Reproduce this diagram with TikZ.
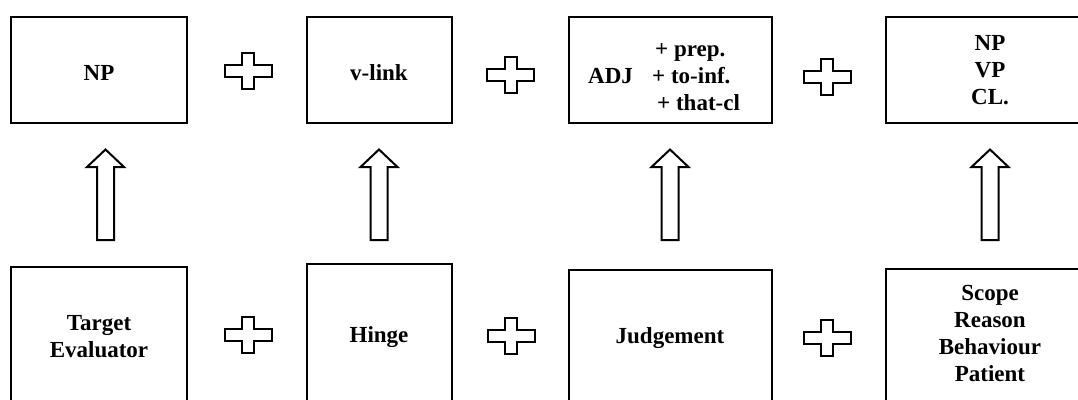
\documentclass[tikz,border=0pt]{standalone}
\usepackage{fontspec}
\setmainfont{Liberation Serif}
\begin{document}
\begin{tikzpicture}[x=1pt,y=-1pt,
  box/.style={draw,line width=2pt,inner sep=0pt,outer sep=0pt},
  lbl/.style={font=\fontsize{23}{27}\selectfont\bfseries,align=center,inner sep=0pt},
  shapeline/.style={draw,line width=2pt,line join=miter,fill=white},
  plussign/.pic={\path[shapeline] (-6,-18) -- (6,-18) -- (6,-6) -- (23.5,-6) -- (23.5,6) -- (6,6) -- (6,18) -- (-6,18) -- (-6,6) -- (-23.5,6) -- (-23.5,-6) -- (-6,-6) -- cycle;},
  uparrow/.pic={\path[shapeline] (0,0) -- (18.5,17.5) -- (8.5,17.5) -- (8.5,90.5) -- (-8.5,90.5) -- (-8.5,17.5) -- (-18.5,17.5) -- cycle;}]
\useasboundingbox (0,0) rectangle (1078,399);
% top row boxes
\node[box,minimum width=176pt,minimum height=106pt] (t1) at (99,70) {};
\node[box,minimum width=145pt,minimum height=106pt] (t2) at (379,70) {};
\node[box,minimum width=203pt,minimum height=106pt] (t3) at (670,70) {};
\node[box,minimum width=208pt,minimum height=106pt] (t4) at (990,70) {};
% bottom row boxes
\node[box,minimum width=176pt,minimum height=153pt] (b1) at (99,343.5) {};
\node[box,minimum width=145pt,minimum height=156pt] (b2) at (379,342) {};
\node[box,minimum width=203pt,minimum height=150pt] (b3) at (670,345) {};
\node[box,minimum width=208pt,minimum height=151pt] (b4) at (990,344.5) {};
% texts
\node[lbl,anchor=base] (lt1) at (99,80) {NP};
\node[lbl,anchor=base] (lt2) at (379,80) {v-link};
\node[lbl,anchor=base west] (lt3a) at (588,83) {ADJ};
\node[lbl,anchor=base west] (lt3b) at (655,56) {+ prep.};
\node[lbl,anchor=base west] (lt3c) at (652,83) {+ to-inf.};
\node[lbl,anchor=base west] (lt3d) at (657,110) {+ that-cl};
\node[lbl] (lt4) at (990,70) {NP\\VP\\CL.};
\node[lbl] (lb1) at (99,337) {Target\\Evaluator};
\node[lbl,anchor=base] (lb2) at (379,342) {Hinge};
\node[lbl,anchor=base] (lb3) at (670,343) {Judgement};
\node[lbl] (lb4) at (990,333) {Scope\\Reason\\Behaviour\\Patient};
% plus signs
\pic at (248,71) {plussign};
\pic at (510.5,75) {plussign};
\pic at (827,77) {plussign};
\pic at (248,335) {plussign};
\pic at (511,335.5) {plussign};
\pic at (827,338) {plussign};
% block arrows
\pic at (105.5,149.5) {uparrow};
\pic at (379,149.5) {uparrow};
\pic at (670,149.5) {uparrow};
\pic at (990,149.5) {uparrow};
\end{tikzpicture}
\end{document}
